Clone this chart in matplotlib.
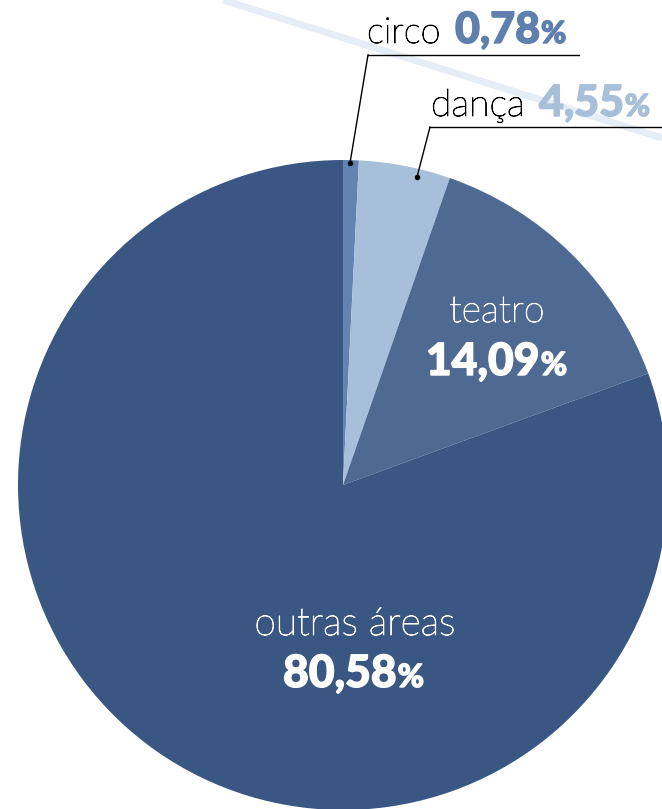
import matplotlib
matplotlib.use("Agg")
import matplotlib.pyplot as plt
from matplotlib.lines import Line2D
import matplotlib.patheffects as pe

categories = ["circo", "dança", "teatro", "outras áreas"]
values = [0.78, 4.55, 14.09, 80.58]
value_labels = ["0,78", "4,55", "14,09", "80,58"]
colors = ["#6384b1", "#a8bfda", "#4e6a92", "#3a5783"]

W, H = 662, 809
fig = plt.figure(figsize=(W / 100, H / 100), dpi=100)
ax = fig.add_axes([0, 0, 1, 1])

# decorative diagonal line
ax.add_line(Line2D([223, 662], [0, 138], color="#e7edf6", lw=5, zorder=0,
                   solid_capstyle="butt"))

cx, cy, R = 343, 485, 325
# y axis is inverted (pixel coordinates), so start at -90 and go "counterclock"
wedges, _ = ax.pie(values, colors=colors, startangle=-90, counterclock=True,
                   center=(cx, cy), radius=R, frame=True,
                   wedgeprops=dict(linewidth=0))
for w in wedges:
    w.set_zorder(1)
ax.set_xlim(0, W)
ax.set_ylim(H, 0)
ax.set_aspect("equal")
ax.axis("off")

FAM = ["Lato", "DejaVu Sans"]
LIGHT = "light"
HEAVY = 900
renderer = fig.canvas.get_renderer()


def light_text(x, y, s, size, color, ha="left"):
    t = ax.text(x, y, s, fontsize=size, fontweight=LIGHT, color=color,
                family=FAM, ha=ha, va="baseline", zorder=5)
    t.set_path_effects([pe.withStroke(linewidth=0.6, foreground=color)])
    return t


def compound(x, y, parts, ha="left"):
    """parts: list of (text, size, weight, color)"""
    objs = []
    cur = x
    inv = ax.transData.inverted()
    for s, size, weight, col in parts:
        t = ax.text(cur, y, s, fontsize=size, fontweight=weight, color=col,
                    family=FAM, ha="left", va="baseline", zorder=5)
        t.set_path_effects([pe.withStroke(linewidth=1.0, foreground=col)])
        bb = t.get_window_extent(renderer)
        x0 = inv.transform((bb.x0, 0))[0]
        x1 = inv.transform((bb.x1, 0))[0]
        cur += (x1 - x0) + 1
        objs.append(t)
    total = cur - x
    if ha == "center":
        for t in objs:
            t.set_x(t.get_position()[0] - total / 2)
    return objs


# circo label
light_text(367, 43, categories[0], 26, "black")
compound(455, 43, [(value_labels[0], 31, HEAVY, "#5f7fae"),
                   ("%", 22, HEAVY, "#5f7fae")])
ax.plot([368, 579], [55, 55], color="black", lw=1, zorder=6)
ax.plot([368, 350], [55, 163], color="black", lw=1, zorder=6)
ax.plot([350], [163], "o", color="black", ms=3, zorder=6)

# dança label
light_text(431, 116, categories[1], 27, "black")
compound(539, 116, [(value_labels[1], 31, HEAVY, "#a8bfda"),
                    ("%", 22, HEAVY, "#a8bfda")])
ax.plot([430, 662], [127, 127], color="black", lw=1, zorder=6)
ax.plot([430, 417], [127, 177], color="black", lw=1, zorder=6)
ax.plot([417], [177], "o", color="black", ms=3, zorder=6)

# teatro label
light_text(497, 322, categories[2], 27, "white", ha="center")
compound(497, 375, [(value_labels[2], 32, HEAVY, "white"),
                    ("%", 23, HEAVY, "white")], ha="center")

# outras áreas label
light_text(355, 635, categories[3], 28, "white", ha="center")
compound(354, 687, [(value_labels[3], 32, HEAVY, "white"),
                    ("%", 23, HEAVY, "white")], ha="center")

fig.savefig("out.png", dpi=100)
